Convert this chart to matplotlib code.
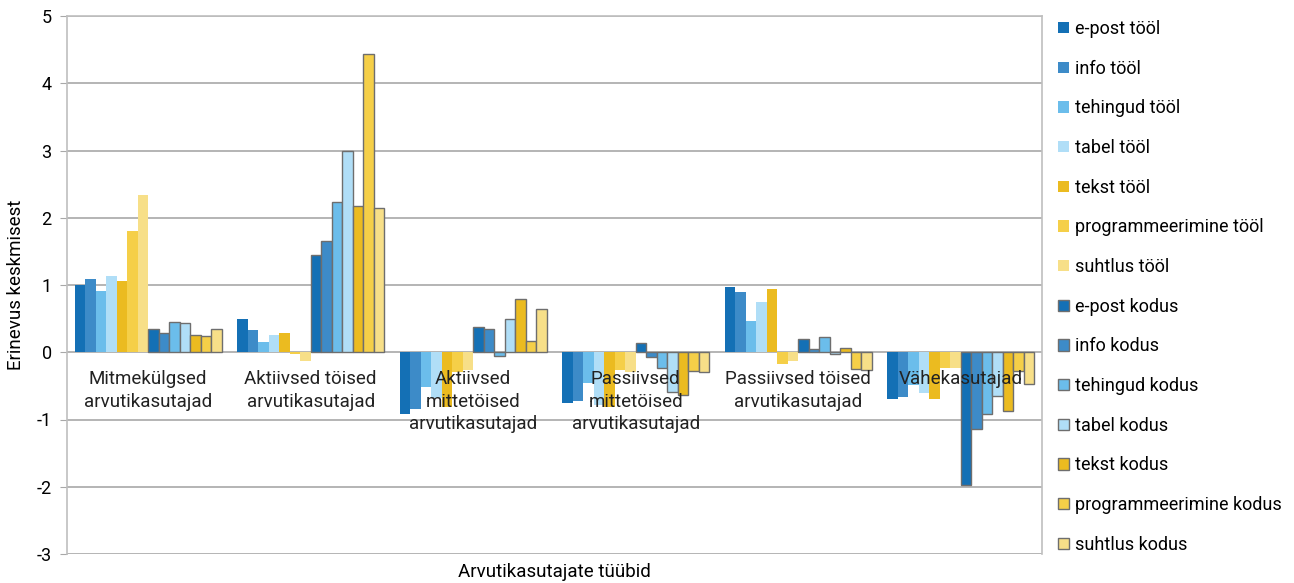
import matplotlib
matplotlib.use("Agg")
import matplotlib.pyplot as plt
import numpy as np

plt.rcParams['font.family'] = ['Roboto', 'DejaVu Sans']

categories = ["Mitmekülgsed\narvutikasutajad", "Aktiivsed töised\narvutikasutajad",
              "Aktiivsed\nmittetöised\narvutikasutajad", "Passiivsed\nmittetöised\narvutikasutajad",
              "Passiivsed töised\narvutikasutajad", "Vähekasutajad"]

series_names = ["e-post tööl", "info tööl", "tehingud tööl", "tabel tööl", "tekst tööl",
                "programmeerimine tööl", "suhtlus tööl",
                "e-post kodus", "info kodus", "tehingud kodus", "tabel kodus", "tekst kodus",
                "programmeerimine kodus", "suhtlus kodus"]

epost_tool = [1.00, 0.49, -0.92, -0.75, 0.97, -0.70]
info_tool = [1.09, 0.33, -0.85, -0.73, 0.89, -0.67]
tehingud_tool = [0.91, 0.15, -0.51, -0.46, 0.46, -0.49]
tabel_tool = [1.13, 0.25, -0.68, -0.78, 0.75, -0.61]
tekst_tool = [1.06, 0.29, -0.82, -0.82, 0.94, -0.69]
prog_tool = [1.81, -0.02, -0.29, -0.27, -0.17, -0.24]
suhtlus_tool = [2.34, -0.13, -0.27, -0.30, -0.13, -0.24]

epost_kodus = [0.35, 1.45, 0.38, 0.14, 0.20, -1.97]
info_kodus = [0.29, 1.65, 0.35, -0.07, 0.05, -1.14]
tehingud_kodus = [0.45, 2.24, -0.06, -0.24, 0.22, -0.92]
tabel_kodus = [0.43, 2.99, 0.49, -0.59, -0.02, -0.65]
tekst_kodus = [0.25, 2.18, 0.79, -0.64, 0.07, -0.88]
prog_kodus = [0.24, 4.44, 0.16, -0.28, -0.25, -0.28]
suhtlus_kodus = [0.34, 2.15, 0.64, -0.29, -0.27, -0.47]

values = [epost_tool, info_tool, tehingud_tool, tabel_tool, tekst_tool, prog_tool, suhtlus_tool,
          epost_kodus, info_kodus, tehingud_kodus, tabel_kodus, tekst_kodus, prog_kodus, suhtlus_kodus]

base_colors = ["#1470b5", "#3d8bc8", "#6bbdeb", "#b0def7", "#ebbb20", "#f5cf48", "#f7df88"]

fig = plt.figure(figsize=(12.94, 5.83), dpi=100)
ax = fig.add_axes([67/1294, 29/583, (1042-67)/1294, (554-16)/583])

n = len(values)
width = 1/15.5
x = np.arange(len(categories))
for k, vals in enumerate(values):
    offs = (k - (n-1)/2) * width
    col = base_colors[k % 7]
    if k < 7:
        ax.bar(x + offs, vals, width, color=col, label=series_names[k], zorder=3, linewidth=0)
    else:
        ax.bar(x + offs, vals, width, color=col, label=series_names[k], zorder=3,
               edgecolor="#6e6e6e", linewidth=1.0)

ax.set_xlim(-0.5, len(categories)-0.5)
ax.set_ylim(-3, 5)
ax.set_yticks(range(-3, 6))
ax.set_yticklabels([str(v) for v in range(-3, 6)], fontsize=13)
ax.set_xticks([])
ax.grid(axis='y', color='#a8a8a8', linewidth=1.2, zorder=0)
for s in ax.spines.values():
    s.set_color('#bfbfbf')
    s.set_linewidth(1.2)
ax.spines['bottom'].set_visible(False)
ax.tick_params(axis='y', length=5, color='#a8a8a8', pad=6)

for i, c in enumerate(categories):
    ax.text(i, -0.27, c, ha='center', va='top', fontsize=13.5, color='#222222',
            linespacing=1.3, zorder=5)

ax.set_ylabel("Erinevus keskmisest", fontsize=13.5, labelpad=8)
fig.text(554/1294, 1 - 572/583, "Arvutikasutajate tüübid", ha='center', va='center', fontsize=13.5)

leg = ax.legend(loc='upper left', bbox_to_anchor=(1058/1294, 1 - 20/583), bbox_transform=fig.transFigure,
                frameon=False, fontsize=13, handlelength=0.6, handleheight=0.6,
                handletextpad=0.35, labelspacing=1.2, borderpad=0, borderaxespad=0)

fig.savefig("out.png", dpi=100)
